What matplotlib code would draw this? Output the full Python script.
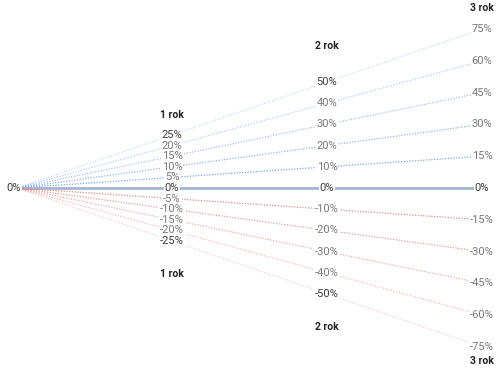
import matplotlib
matplotlib.use("Agg")
import matplotlib.pyplot as plt

plt.rcParams['font.family'] = ['Roboto', 'DejaVu Sans']

years = [0, 1, 2, 3]
year_labels = ["1 rok", "2 rok", "3 rok"]

# cumulative value of each path at years 1, 2 and 3 (percent)
year1 = [25, 20, 15, 10, 5, 0, -5, -10, -15, -20, -25]
year2 = [50, 40, 30, 20, 10, 0, -10, -20, -30, -40, -50]
year3 = [75, 60, 45, 30, 15, 0, -15, -30, -45, -60, -75]

# where the "N rok" headings sit (percent scale), above and below
heading_top = [34.4, 67.0, 84.9]
heading_bottom = [-40.6, -65.6, -81.6]

dark_labels = [25, 50, -25, -50, 0]


def main():
    fig = plt.figure(figsize=(5.0, 3.73), dpi=100)
    ax = fig.add_axes([0, 0, 1, 1])
    ax.set_xlim(-17 / 155, 483 / 155)
    ax.set_ylim(-87.3, 88.7)
    ax.axis('off')

    n = len(year1)
    for i in range(n):
        vals = [0, year1[i], year2[i], year3[i]]
        if year1[i] == 0:
            ax.plot(years, vals, color='#a6b4d2', lw=2.0, solid_capstyle='butt', zorder=1)
            continue
        step = abs(year1[i]) / 5
        alpha = 0.9 - (step - 1) * 0.13
        color = '#6d9eeb' if year1[i] > 0 else '#e67c7c'
        ax.plot(years, vals, color=color, lw=0.9, ls=(0, (1, 1.2)), alpha=alpha, zorder=1)

    for x, col in zip([1, 2, 3], [year1, year2, year3]):
        for v in col:
            c = '#3c3c3c' if v in dark_labels else '#7a7a7a'
            ax.text(x, v, f"{v}%", ha='center', va='center', fontsize=8, color=c,
                    bbox=dict(facecolor='white', edgecolor='none', pad=0.6), zorder=3)

    ax.annotate("0%", (0, 0), xytext=(3, 0), textcoords='offset points',
                ha='right', va='center', fontsize=8, color='#3c3c3c', zorder=3,
                bbox=dict(facecolor='white', edgecolor='none', pad=0.6))

    for x, lab, yt, yb in zip([1, 2, 3], year_labels, heading_top, heading_bottom):
        ax.text(x, yt, lab, ha='center', va='center', fontsize=7.5, fontweight='bold', color='#222222')
        ax.text(x, yb, lab, ha='center', va='center', fontsize=7.5, fontweight='bold', color='#222222')

    fig.savefig('out.png', dpi=100)


if __name__ == "__main__":
    main()
